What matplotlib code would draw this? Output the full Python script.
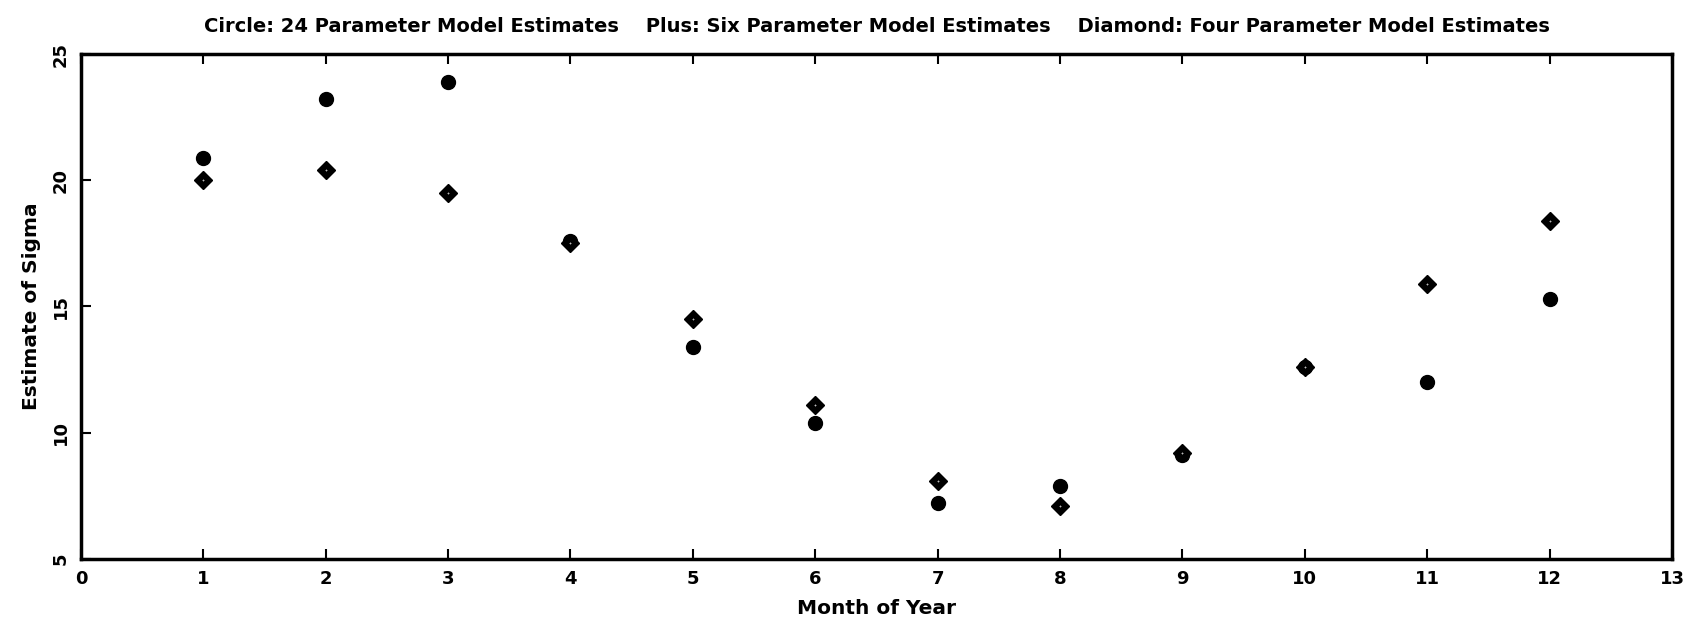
import matplotlib
matplotlib.use("Agg")
import matplotlib.pyplot as plt

months = [1, 2, 3, 4, 5, 6, 7, 8, 9, 10, 11, 12]
sigma_24 = [20.9, 23.2, 23.9, 17.6, 13.4, 10.4, 7.2, 7.9, 9.1, 12.6, 12.0, 15.3]
sigma_6 = [20.0, 20.4, 19.5, 17.5, 14.5, 11.1, 8.1, 7.1, 9.2, 12.6, 15.9, 18.4]
sigma_4 = [20.0, 20.4, 19.5, 17.5, 14.5, 11.1, 8.1, 7.1, 9.2, 12.6, 15.9, 18.4]

x_ticks = list(range(0, 14))
y_ticks = [5, 10, 15, 20, 25]

title = ("Circle: 24 Parameter Model Estimates    Plus: Six Parameter Model Estimates"
         "    Diamond: Four Parameter Model Estimates")

plt.rcParams["font.family"] = "DejaVu Sans"
fig = plt.figure(figsize=(16.86, 6.28), dpi=100)
ax = fig.add_axes([0.048, 0.110, 0.9437, 0.804])

ax.plot(months, sigma_24, linestyle="none", marker="o", markersize=10,
        color="black")
ax.plot(months, sigma_4, linestyle="none", marker="D", markersize=9,
        color="black")
ax.plot(months, sigma_6, linestyle="none", marker="+", markersize=2,
        markeredgewidth=0.6, color="#bbbbbb")

ax.set_xlim(0, 13)
ax.set_ylim(5, 25)
ax.set_xticks(x_ticks)
ax.set_yticks(y_ticks)
ax.tick_params(direction="in", length=7, width=1.5, top=True, right=False,
               labelsize=13, pad=8)
for lbl in ax.get_xticklabels() + ax.get_yticklabels():
    lbl.set_fontweight("bold")
for lbl in ax.get_yticklabels():
    lbl.set_rotation(90)
    lbl.set_va("center")
for s in ax.spines.values():
    s.set_linewidth(2.5)

ax.set_xlabel("Month of Year", fontsize=14.5, fontweight="bold", labelpad=8)
ax.set_ylabel("Estimate of Sigma", fontsize=14.5, fontweight="bold", labelpad=8)
ax.set_title(title, fontsize=14, fontweight="bold", pad=16)

fig.savefig("out.png", dpi=100)
